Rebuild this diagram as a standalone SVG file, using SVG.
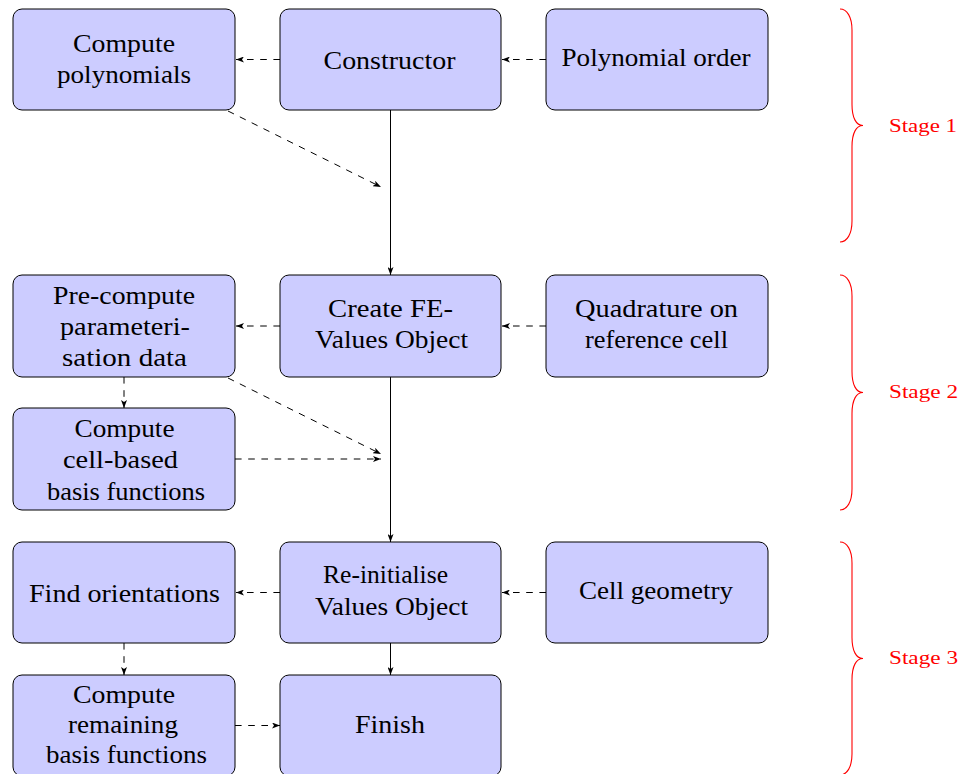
<svg xmlns="http://www.w3.org/2000/svg" width="960" height="774" viewBox="0 0 960 774">
<style>
.box{fill:#ccccff;stroke:#000;stroke-width:1}
text{font-family:'Liberation Serif','DejaVu Serif',serif}
.t{font-size:25px;fill:#000;text-anchor:middle}
.st{font-size:19px;fill:#ff0000}
.d{fill:none;stroke:#000;stroke-width:1;stroke-dasharray:6.6 6.6;marker-end:url(#ah)}
.s{fill:none;stroke:#000;stroke-width:1;marker-end:url(#ah)}
.br{fill:none;stroke:#ff0000;stroke-width:1.1}
</style>
<defs>
<marker id="ah" viewBox="0 0 8 6" refX="8" refY="3" markerWidth="8" markerHeight="6" orient="auto" markerUnits="userSpaceOnUse">
<path d="M0,0 L8,3 L0,6 L2,3 Z" fill="#000"/>
</marker>
</defs>
<g id="connectors">
<path class="d" d="M280,59.5 L236,59.5"/>
<path class="d" d="M546,59.5 L502,59.5"/>
<path class="d" d="M228,111 L381,187"/>
<path class="s" d="M390.5,110 L390.5,275"/>
<path class="d" d="M280,326 L236,326"/>
<path class="d" d="M546,326 L502,326"/>
<path class="d" d="M124,377 L124,408"/>
<path class="d" d="M228,378 L381,454"/>
<path class="d" d="M235,459 L381,459"/>
<path class="s" d="M390.5,377 L390.5,542"/>
<path class="d" d="M280,592.5 L236,592.5"/>
<path class="d" d="M546,592.5 L502,592.5"/>
<path class="d" d="M124,643 L124,675"/>
<path class="s" d="M390.5,643 L390.5,675"/>
<path class="d" d="M235,725.5 L280,725.5"/>
</g>
<g id="n-compute-polynomials">
<rect class="box" x="13" y="9" width="222" height="101" rx="9"/>
<text class="t" x="124" y="52" textLength="102" lengthAdjust="spacingAndGlyphs">Compute</text>
<text class="t" x="124" y="83" textLength="134" lengthAdjust="spacingAndGlyphs">polynomials</text>
</g>
<g id="n-constructor">
<rect class="box" x="280" y="9" width="221" height="101" rx="9"/>
<text class="t" x="389.5" y="69" textLength="132" lengthAdjust="spacingAndGlyphs">Constructor</text>
</g>
<g id="n-polynomial-order">
<rect class="box" x="546" y="9" width="222" height="101" rx="9"/>
<text class="t" x="656" y="66" textLength="189" lengthAdjust="spacingAndGlyphs">Polynomial order</text>
</g>
<g id="n-precompute">
<rect class="box" x="13" y="275" width="222" height="102" rx="9"/>
<text class="t" x="124" y="303.5" textLength="142" lengthAdjust="spacingAndGlyphs">Pre-compute</text>
<text class="t" x="125" y="335" textLength="130" lengthAdjust="spacingAndGlyphs">parameteri-</text>
<text class="t" x="124.5" y="366" textLength="125" lengthAdjust="spacingAndGlyphs">sation data</text>
</g>
<g id="n-create-fe">
<rect class="box" x="280" y="275" width="221" height="102" rx="9"/>
<text class="t" x="390.5" y="317" textLength="125" lengthAdjust="spacingAndGlyphs">Create FE-</text>
<text class="t" x="391.5" y="348" textLength="153" lengthAdjust="spacingAndGlyphs">Values Object</text>
</g>
<g id="n-quadrature">
<rect class="box" x="546" y="275" width="222" height="102" rx="9"/>
<text class="t" x="656.5" y="317" textLength="163" lengthAdjust="spacingAndGlyphs">Quadrature on</text>
<text class="t" x="656.5" y="348" textLength="143" lengthAdjust="spacingAndGlyphs">reference cell</text>
</g>
<g id="n-cell-based">
<rect class="box" x="13" y="408" width="222" height="102" rx="9"/>
<text class="t" x="124.5" y="436.5" textLength="100" lengthAdjust="spacingAndGlyphs">Compute</text>
<text class="t" x="120.5" y="468" textLength="115" lengthAdjust="spacingAndGlyphs">cell-based</text>
<text class="t" x="126" y="499.5" textLength="158" lengthAdjust="spacingAndGlyphs">basis functions</text>
</g>
<g id="n-find-orientations">
<rect class="box" x="13" y="542" width="222" height="101" rx="9"/>
<text class="t" x="124.5" y="601.5" textLength="191" lengthAdjust="spacingAndGlyphs">Find orientations</text>
</g>
<g id="n-reinitialise">
<rect class="box" x="280" y="542" width="221" height="101" rx="9"/>
<text class="t" x="385.5" y="583" textLength="125" lengthAdjust="spacingAndGlyphs">Re-initialise</text>
<text class="t" x="391.5" y="615" textLength="153" lengthAdjust="spacingAndGlyphs">Values Object</text>
</g>
<g id="n-cell-geometry">
<rect class="box" x="546" y="542" width="222" height="101" rx="9"/>
<text class="t" x="656" y="599" textLength="154" lengthAdjust="spacingAndGlyphs">Cell geometry</text>
</g>
<g id="n-remaining">
<rect class="box" x="13" y="675" width="222" height="101" rx="9"/>
<text class="t" x="124" y="703" textLength="102" lengthAdjust="spacingAndGlyphs">Compute</text>
<text class="t" x="123" y="733" textLength="110" lengthAdjust="spacingAndGlyphs">remaining</text>
<text class="t" x="126.5" y="763" textLength="161" lengthAdjust="spacingAndGlyphs">basis functions</text>
</g>
<g id="n-finish">
<rect class="box" x="280" y="675" width="221" height="101" rx="9"/>
<text class="t" x="390" y="733" textLength="70" lengthAdjust="spacingAndGlyphs">Finish</text>
</g>
<g id="stage-1">
<path class="br" d="M840,9 C847,9 852,17 852,30 L852,104.5 C852,117.5 856,125.5 863,125.5 C856,125.5 852,133.5 852,146.5 L852,221 C852,234 847,242 840,242"/>
<text class="st" x="889" y="131.5" textLength="68" lengthAdjust="spacingAndGlyphs">Stage 1</text>
</g>
<g id="stage-2">
<path class="br" d="M840,275 C847,275 852,283 852,296 L852,371.5 C852,384.5 856,392.5 863,392.5 C856,392.5 852,400.5 852,413.5 L852,489 C852,502 847,510 840,510"/>
<text class="st" x="889" y="397.5" textLength="69" lengthAdjust="spacingAndGlyphs">Stage 2</text>
</g>
<g id="stage-3">
<path class="br" d="M840,542 C847,542 852,550 852,563 L852,637.5 C852,650.5 856,658.5 863,658.5 C856,658.5 852,666.5 852,679.5 L852,754 C852,767 847,775 840,775"/>
<text class="st" x="889" y="663.5" textLength="69" lengthAdjust="spacingAndGlyphs">Stage 3</text>
</g>
</svg>
